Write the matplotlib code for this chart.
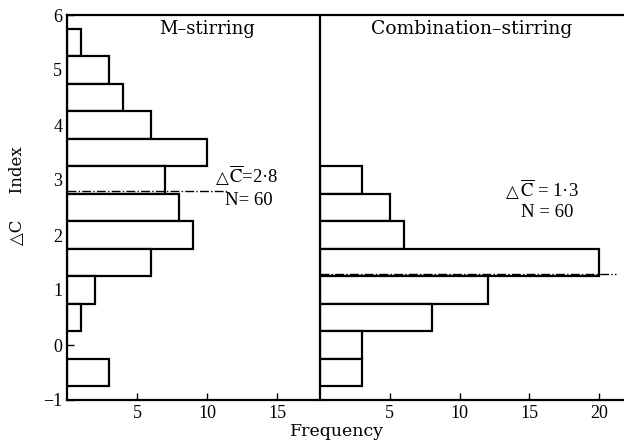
import matplotlib
matplotlib.use("Agg")
import matplotlib.pyplot as plt
from matplotlib.ticker import MultipleLocator

plt.rcParams['font.family'] = ['Liberation Serif', 'DejaVu Sans']
plt.rcParams['mathtext.fontset'] = 'stix'

# Data: class centres of Delta C index and frequencies
m_centres = [5.5, 5.0, 4.5, 4.0, 3.5, 3.0, 2.5, 2.0, 1.5, 1.0, 0.5, -0.5]
m_counts = [1, 3, 4, 6, 10, 7, 8, 9, 6, 2, 1, 3]
m_mean = 2.8

c_centres = [3.0, 2.5, 2.0, 1.5, 1.0, 0.5, 0.0, -0.5]
c_counts = [3, 5, 6, 20, 12, 8, 3, 3]
c_mean = 1.3

bin_height = 0.5
yticks = [-1, 0, 1, 2, 3, 4, 5, 6]
m_xticks = [5, 10, 15]
c_xticks = [5, 10, 15, 20]

serif_wide = ['DejaVu Serif', 'DejaVu Sans']

fig = plt.figure(figsize=(6.24, 4.41), dpi=100)
ax1 = fig.add_axes([67/624, 1-400/441, (318-67)/624, 385/441])
ax2 = fig.add_axes([320/624, 1-400/441, (623-320)/624, 385/441], sharey=ax1)

for ax, centres, counts, xmax in [(ax1, m_centres, m_counts, 17.9), (ax2, c_centres, c_counts, 21.7)]:
    ax.barh(centres, counts, height=bin_height, color='white', edgecolor='black', linewidth=1.6, zorder=2)
    ax.set_xlim(0, xmax)
    ax.set_ylim(-1, 6)
    ax.spines['right'].set_visible(False)
    for s in ['left', 'bottom', 'top']:
        ax.spines[s].set_linewidth(1.6)
    ax.tick_params(direction='in', length=5, width=1, labelsize=13)
    ax.tick_params(axis='y', which='minor', direction='in', length=3, width=0.8)

ax1.set_xticks(m_xticks)
ax2.set_xticks(c_xticks)
ax1.set_yticks(yticks)
ax1.yaxis.set_minor_locator(MultipleLocator(0.5))
ax2.tick_params(axis='y', which='both', left=False, labelleft=False)

# mean lines
ax1.plot([0, 11.4], [m_mean, m_mean], color='black', linestyle='-.', linewidth=1, zorder=3)
ax2.plot([0, 21.2], [c_mean, c_mean], color='black', linestyle='-.', linewidth=1, zorder=3, clip_on=False)

# annotations: triangle + C-bar
ax1.text(11.5, 2.945, "△", ha='right', va='baseline', fontsize=12, family=['DejaVu Sans'])
ax1.text(11.55, 2.945, "$\\overline{\\mathrm{C}}$=2·8", ha='left', va='baseline', fontsize=13.5)
ax1.text(13.0, 2.545, "N= 60", ha='center', va='baseline', fontsize=13.5)
ax2.text(14.25, 2.69, "△", ha='right', va='baseline', fontsize=12, family=['DejaVu Sans'])
ax2.text(14.3, 2.69, "$\\overline{\\mathrm{C}}$ = 1·3", ha='left', va='baseline', fontsize=13.5)
ax2.text(16.3, 2.33, "N = 60", ha='center', va='baseline', fontsize=13.5)

ax1.text(0.56, 0.963, "M–stirring", transform=ax1.transAxes, ha='center', va='center',
         fontsize=13, family=serif_wide)
ax2.text(0.50, 0.963, "Combination–stirring", transform=ax2.transAxes, ha='center', va='center',
         fontsize=13.5, family=serif_wide)

ax1.set_ylabel("△C     Index", fontsize=12, family=serif_wide)
ax1.yaxis.set_label_coords(-0.165, 0.53)
fig.text(337/624, 1-432/441, "Frequency", ha='center', va='center', fontsize=12.5, family=serif_wide)

fig.savefig("out.png", dpi=100)
